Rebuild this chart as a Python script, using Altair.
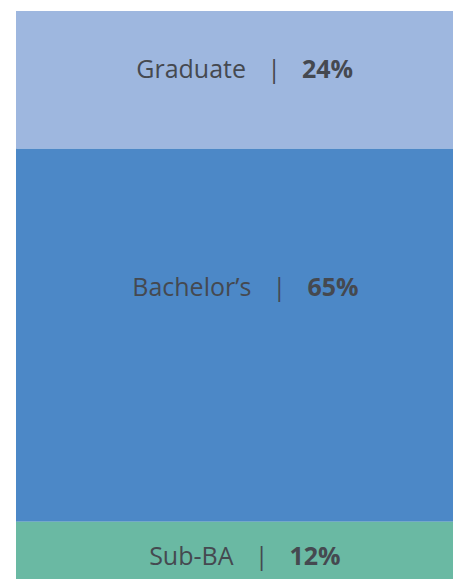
import altair as alt
import pandas as pd

# ---- data ----
categories = ["Graduate", "Bachelor’s", "Sub-BA"]
shares = [24, 65, 12]
colors = ["#9EB7DF", "#4C88C7", "#6AB9A3"]

FONT = "Open Sans"
FS = 25
TEXT_COLOR = "#454950"

# approximate Open Sans advance widths (em units) for layout of the mixed-weight labels
REG = {" ": 0.26, "|": 0.54, "G": 0.69, "r": 0.41, "a": 0.56, "d": 0.61, "u": 0.61,
       "t": 0.35, "e": 0.56, "B": 0.64, "c": 0.48, "h": 0.61, "l": 0.27, "o": 0.60,
       "’": 0.17, "s": 0.48, "S": 0.54, "b": 0.61, "-": 0.32, "A": 0.63}
BOLD = {"0": 0.57, "1": 0.57, "2": 0.57, "4": 0.57, "5": 0.57, "6": 0.57, "%": 0.89}


def width(s, table):
    return sum(table.get(ch, 0.55) for ch in s) * FS


W, H = 437, 568
CENTER_X = 229  # horizontal centre of the label group within the plot
GAP1, GAP2 = 28, 28  # label end -> separator, separator -> percentage
LABEL_FRAC = 0.659
LABEL_DY = 12

# stack: Sub-BA at the bottom
rows = []
start = 0
for cat, v, c in reversed(list(zip(categories, shares, colors))):
    rows.append({"cat": cat, "v": v, "start": start, "end": start + v, "color": c})
    start += v
df = pd.DataFrame(rows[::-1])
total = df["end"].max()
df["ly"] = df["start"] + LABEL_FRAC * df["v"]
df["pct"] = df["v"].astype(str) + "%"
df["sep"] = "|"
wl = df["cat"].apply(lambda s: width(s, REG))
wp = df["pct"].apply(lambda s: width(s, BOLD))
left = CENTER_X - (wl + GAP1 + GAP2 + wp) / 2
df["bx"] = left + wl + GAP1
df["lx"] = df["bx"] - GAP1
df["px"] = df["bx"] + GAP2

yscale = alt.Scale(domain=[2, total], nice=False, zero=False)

bars = alt.Chart(df).mark_bar(clip=True, stroke=None).encode(
    x=alt.value(0), x2=alt.value(W),
    y=alt.Y("start:Q", scale=yscale, axis=None),
    y2="end:Q",
    color=alt.Color("cat:N", scale=alt.Scale(domain=categories, range=colors), legend=None),
)

base_text = dict(font=FONT, fontSize=FS, color=TEXT_COLOR, baseline="middle", dy=LABEL_DY)

lab = alt.Chart(df).mark_text(align="right", fontWeight="normal", **base_text).encode(
    x=alt.X("lx:Q", scale=None), y=alt.Y("ly:Q", scale=yscale), text="cat:N")
sep = alt.Chart(df).mark_text(align="center", fontWeight="normal", **base_text).encode(
    x=alt.X("bx:Q", scale=None), y=alt.Y("ly:Q", scale=yscale), text="sep:N")
pct = alt.Chart(df).mark_text(align="left", fontWeight="bold", **base_text).encode(
    x=alt.X("px:Q", scale=None), y=alt.Y("ly:Q", scale=yscale), text="pct:N")

chart = (bars + lab + sep + pct).properties(
    width=W, height=H,
    padding={"left": 8, "top": 3, "right": 0, "bottom": 0},
    autosize=alt.AutoSizeParams(type="none"),
).configure_view(stroke=None).configure(background="white")

chart.save("out.html", embed_options={"renderer": "svg", "actions": False})
